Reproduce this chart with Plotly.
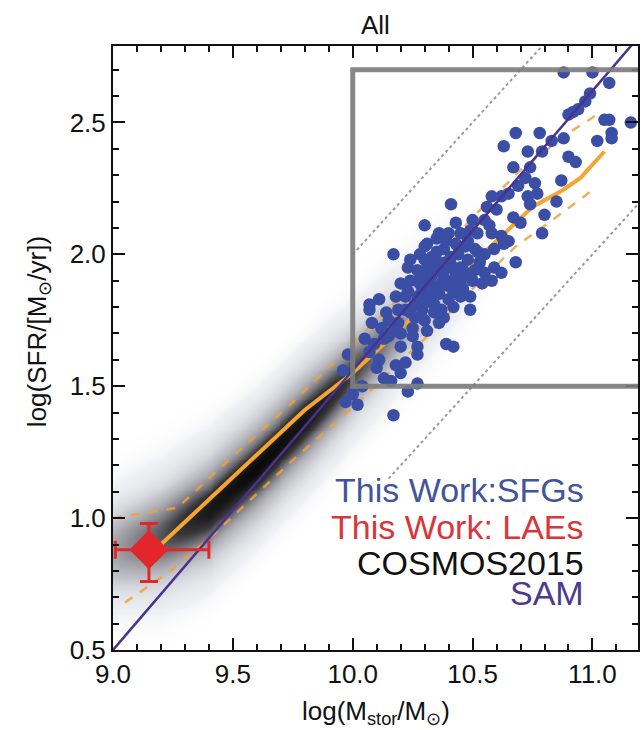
import numpy as np
import plotly.graph_objects as go

# ---------------- data ----------------
# This Work: star-forming galaxies (log stellar mass, log SFR)
sfg_logm = [
    10.88, 11.00, 11.07, 10.99, 10.97, 10.90, 10.92, 10.94, 11.05, 11.07, 11.16, 11.08,
    11.08, 11.02, 10.68, 10.78, 10.63, 10.83, 10.88, 10.79, 10.73, 10.90, 10.93, 10.67,
    10.74, 10.87, 10.72, 10.76, 10.69, 10.58, 10.62, 10.65, 10.73, 10.41, 10.77, 10.74,
    10.85, 10.80, 10.79, 10.30, 10.56, 10.60, 10.67, 10.55, 10.70, 10.36, 10.40, 10.45,
    10.49, 10.52, 10.58, 10.62, 10.65, 10.17, 10.31, 10.24, 10.28, 10.33, 10.38, 10.43,
    10.47, 10.51, 10.55, 10.59, 10.63, 10.68, 10.23, 10.27, 10.31, 10.36, 10.40, 10.45,
    10.51, 10.55, 10.59, 10.62, 10.20, 10.24, 10.28, 10.32, 10.37, 10.41, 10.45, 10.50,
    10.54, 10.58, 10.07, 10.11, 10.18, 10.22, 10.27, 10.31, 10.36, 10.40, 10.45, 10.49,
    10.07, 10.14, 10.19, 10.24, 10.29, 10.34, 10.38, 10.42, 10.49, 10.08, 10.12, 10.19,
    10.25, 10.30, 10.36, 10.20, 10.25, 10.31, 10.05, 10.09, 10.15, 10.39, 10.42, 10.07,
    10.11, 10.20, 10.27, 10.27, 10.18, 10.22, 10.10, 10.13, 10.16, 10.20, 10.23, 10.27,
    10.04, 9.97, 10.02, 10.17, 9.96, 9.98, 10.00,
    10.33, 10.39, 10.44, 10.35, 10.29, 10.47, 10.42, 10.34, 10.26, 10.53, 10.38, 10.48,
    10.30, 10.36, 10.41, 10.46, 10.32, 10.26, 10.22, 10.43, 10.50, 10.57, 10.15, 10.13,
    10.34, 10.38, 10.43, 10.29, 10.33, 10.40, 10.46, 10.36, 10.31, 10.27, 10.44, 10.39,
    10.35, 10.30, 10.48, 10.52, 10.23, 10.18, 10.41, 10.37,
]
sfg_logsfr = [
    2.69, 2.69, 2.65, 2.61, 2.58, 2.53, 2.54, 2.55, 2.51, 2.51, 2.50, 2.46,
    2.44, 2.43, 2.46, 2.46, 2.41, 2.43, 2.44, 2.39, 2.39, 2.37, 2.35, 2.33,
    2.33, 2.28, 2.29, 2.27, 2.26, 2.22, 2.22, 2.23, 2.22, 2.19, 2.23, 2.19,
    2.20, 2.15, 2.08, 2.11, 2.18, 2.17, 2.14, 2.13, 2.12, 2.08, 2.08, 2.08,
    2.09, 2.08, 2.08, 2.07, 2.05, 2.00, 2.04, 1.98, 2.00, 1.99, 2.02, 2.04,
    2.03, 2.02, 2.00, 2.02, 2.04, 1.97, 1.95, 1.94, 1.95, 1.94, 1.95, 1.95,
    1.94, 1.93, 1.95, 1.93, 1.89, 1.90, 1.89, 1.90, 1.89, 1.90, 1.89, 1.90,
    1.89, 1.90, 1.81, 1.83, 1.84, 1.84, 1.84, 1.84, 1.85, 1.83, 1.84, 1.84,
    1.79, 1.78, 1.79, 1.78, 1.79, 1.78, 1.76, 1.80, 1.79, 1.74, 1.72, 1.74,
    1.72, 1.75, 1.74, 1.70, 1.69, 1.71, 1.68, 1.66, 1.69, 1.66, 1.65, 1.63,
    1.60, 1.65, 1.65, 1.62, 1.58, 1.59, 1.57, 1.53, 1.52, 1.55, 1.48, 1.51,
    1.50, 1.44, 1.43, 1.39, 1.56, 1.62, 1.47,
    1.92, 1.97, 2.00, 2.01, 1.87, 1.92, 1.86, 1.81, 1.81, 1.97, 1.91, 1.98,
    1.98, 1.88, 1.96, 1.87, 1.84, 1.76, 1.79, 2.12, 2.13, 2.11, 1.75, 1.68,
    1.95, 1.94, 1.92, 1.93, 1.86, 1.88, 1.94, 1.97, 1.82, 1.90, 2.03, 2.05,
    2.06, 2.03, 2.05, 2.01, 1.86, 1.71, 1.99, 1.79,
]

# This Work: stacked LAEs
lae_logm = [9.15]
lae_logsfr = [0.88]
lae_logm_err_lo = [0.14]
lae_logm_err_hi = [0.25]
lae_logsfr_err_lo = [0.12]
lae_logsfr_err_hi = [0.10]

# SAM relation
sam_logm = [9.0, 11.25]
sam_logsfr = [0.5, 2.885]

# COSMOS2015 running median and scatter
cosmos_med_logm = [9.2, 9.4, 9.6, 9.8, 10.0, 10.2, 10.4, 10.6, 10.75, 10.87, 10.95, 11.05]
cosmos_med_logsfr = [0.90, 1.07, 1.24, 1.41, 1.55, 1.72, 1.88, 2.05, 2.18, 2.24, 2.29, 2.39]
cosmos_hi_logm = [9.0, 9.27, 9.47, 9.75, 10.0, 10.3, 10.5, 10.7, 10.9, 11.02]
cosmos_hi_logsfr = [1.00, 1.04, 1.21, 1.44, 1.66, 1.93, 2.14, 2.32, 2.46, 2.53]
cosmos_lo_logm = [9.05, 9.24, 9.41, 9.61, 9.75, 10.0, 10.3, 10.5, 10.68, 10.87, 11.01]
cosmos_lo_logsfr = [0.68, 0.80, 0.93, 1.10, 1.22, 1.42, 1.68, 1.87, 2.03, 2.155, 2.25]

# COSMOS2015 number density: ridge centre, core weight, core and halo spread
ridge_logm = [9.0, 9.2, 9.4, 9.6, 9.8, 10.0, 10.2, 10.4, 10.6]
ridge_logsfr = [0.88, 0.93, 1.03, 1.19, 1.37, 1.55, 1.73, 1.90, 2.05]
ridge_weight = [0.30, 0.55, 0.88, 0.98, 0.90, 0.62, 0.35, 0.16, 0.0]
core_spread = [0.09, 0.08, 0.065, 0.06, 0.06, 0.065, 0.075, 0.09, 0.10]
halo_spread = [0.17, 0.17, 0.16, 0.15, 0.15, 0.15, 0.16, 0.17, 0.18]

# selection box and +/-0.5 dex offset lines
box_logm = [10.0, 11.4]
box_logsfr = [1.5, 2.7]
offset_hi_logm = [10.0, 10.8]
offset_hi_logsfr = [2.0, 2.8]
offset_lo_logm = [10.15, 11.25]
offset_lo_logsfr = [1.15, 2.25]

x_ticks = [9.0, 9.5, 10.0, 10.5, 11.0]
y_ticks = [0.5, 1.0, 1.5, 2.0, 2.5]

# ---------------- figure ----------------
FONT = "Liberation Sans, Arial, sans-serif"
fig = go.Figure()

# density map built from the ridge table: narrow dark core inside a wide halo
gx = np.linspace(9.0, 10.8, 220)
gy = np.linspace(0.5, 2.4, 260)
cen = np.interp(gx, ridge_logm, ridge_logsfr)[None, :]
wgt = np.interp(gx, ridge_logm, ridge_weight)[None, :]
s_core = np.interp(gx, ridge_logm, core_spread)[None, :]
s_halo = np.interp(gx, ridge_logm, halo_spread)[None, :]
dy = gy[:, None] - cen
zz = wgt * (0.62 * np.exp(-0.5 * (dy / s_core) ** 2) + 0.38 * np.exp(-0.5 * (dy / s_halo) ** 2))
fig.add_trace(go.Heatmap(
    x=gx, y=gy, z=zz, zmin=0, zmax=1, zsmooth="best", showscale=False, hoverinfo="skip",
    colorscale=[[0.0, "rgba(255,255,255,0)"], [0.05, "rgba(232,233,238,0.7)"],
                [0.18, "rgb(200,201,207)"], [0.38, "rgb(140,140,146)"],
                [0.65, "rgb(55,55,58)"], [1.0, "rgb(6,6,6)"]],
))

# dotted offset lines
for lx, ly in ((offset_hi_logm, offset_hi_logsfr), (offset_lo_logm, offset_lo_logsfr)):
    fig.add_trace(go.Scatter(x=lx, y=ly, mode="lines", hoverinfo="skip",
                             line=dict(color="#9a9a9a", width=2, dash="dot")))

# COSMOS2015 median and scatter
fig.add_trace(go.Scatter(x=cosmos_hi_logm, y=cosmos_hi_logsfr, mode="lines",
                         line=dict(color="rgba(240,160,60,0.85)", width=2.5, dash="dash")))
fig.add_trace(go.Scatter(x=cosmos_lo_logm, y=cosmos_lo_logsfr, mode="lines",
                         line=dict(color="rgba(240,160,60,0.85)", width=2.5, dash="dash")))
fig.add_trace(go.Scatter(x=cosmos_med_logm, y=cosmos_med_logsfr, mode="lines",
                         line=dict(color="#f4a532", width=4)))

# SFG points
fig.add_trace(go.Scatter(x=sfg_logm, y=sfg_logsfr, mode="markers",
                         marker=dict(color="#3a4ea6", size=12.5, line=dict(width=0))))

# SAM relation
fig.add_trace(go.Scatter(x=sam_logm, y=sam_logsfr, mode="lines",
                         line=dict(color="#47338f", width=2.5)))

# LAE stack
fig.add_trace(go.Scatter(
    x=lae_logm, y=lae_logsfr, mode="markers",
    marker=dict(symbol="diamond", size=30, color="#e2262a"),
    error_x=dict(type="data", symmetric=False, array=lae_logm_err_hi,
                 arrayminus=lae_logm_err_lo, color="#e2262a", thickness=3, width=9),
    error_y=dict(type="data", symmetric=False, array=lae_logsfr_err_hi,
                 arrayminus=lae_logsfr_err_lo, color="#e2262a", thickness=3, width=9),
))

fig.add_shape(type="rect", xref="x", yref="y", x0=box_logm[0], x1=box_logm[1],
              y0=box_logsfr[0], y1=box_logsfr[1], layer="above",
              line=dict(color="rgba(125,125,125,0.92)", width=5))

# legend written as coloured text
legend_items = [("This Work:SFGs", "#42559b"), ("This Work: LAEs", "#d9363c"),
                ("COSMOS2015", "#111111"), ("SAM", "#4c3a8e")]
legend_y = [0.265, 0.204, 0.144, 0.094]
for (txt, col), ly in zip(legend_items, legend_y):
    fig.add_annotation(text=txt, xref="paper", yref="paper", x=0.901, y=ly,
                       xanchor="right", yanchor="middle", showarrow=False,
                       font=dict(family=FONT, size=34, color=col))

fig.add_annotation(text="All", xref="paper", yref="paper", x=0.5, y=1.035,
                   xanchor="center", yanchor="middle", showarrow=False,
                   font=dict(family=FONT, size=26, color="#111"))
fig.add_annotation(text="log(M<sub>stor</sub>/M<sub>⊙</sub>)", xref="paper", yref="paper",
                   x=0.5, y=-0.103, xanchor="center", yanchor="middle", showarrow=False,
                   font=dict(family=FONT, size=26, color="#111"))
fig.add_annotation(text="log(SFR/[M<sub>⊙</sub>/yr])", xref="paper", yref="paper",
                   x=-0.142, y=0.527, xanchor="center", yanchor="middle", showarrow=False,
                   textangle=-90, font=dict(family=FONT, size=26, color="#111"))

axis_common = dict(showline=True, linewidth=2, linecolor="#111", mirror="ticks",
                   ticks="inside", ticklen=12, tickwidth=2, tickcolor="#111",
                   showgrid=False, zeroline=False, tickformat=".1f",
                   tickfont=dict(family=FONT, size=26, color="#111"),
                   minor=dict(ticks="inside", ticklen=6, tickwidth=2, tickcolor="#111",
                              dtick=0.1, showgrid=False))
fig.update_xaxes(range=[9.0, 11.19], tickvals=x_ticks, **axis_common)
fig.update_yaxes(range=[0.5, 2.79], tickvals=y_ticks, **axis_common)
fig.update_layout(width=642, height=730, margin=dict(l=113, r=2, t=46, b=80),
                  paper_bgcolor="white", plot_bgcolor="white", showlegend=False)

fig.write_html("out.html")
